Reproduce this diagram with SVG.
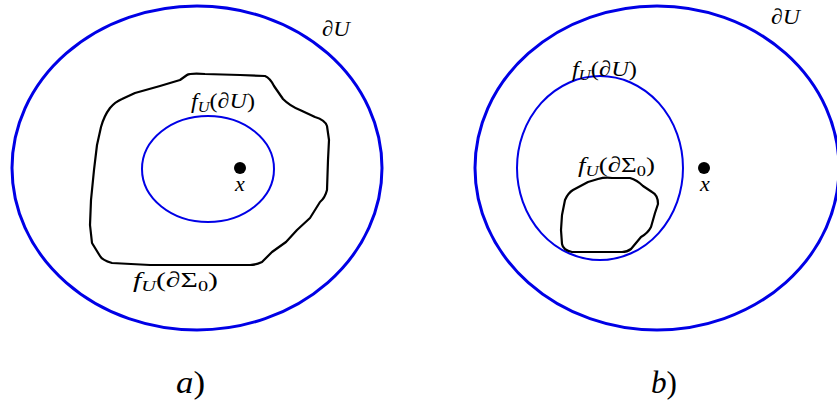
<svg xmlns="http://www.w3.org/2000/svg" width="837" height="403" viewBox="0 0 837 403">
<style>
.big{fill:none;stroke:#0000e6;stroke-width:3}
.inner{fill:none;stroke:#0000e6;stroke-width:2}
.blob{fill:none;stroke:#000;stroke-width:2.2;stroke-linejoin:round}
text{font-family:"Liberation Serif","DejaVu Serif",serif;fill:#000}
.lbl{font-size:22px}
.it{font-style:italic}
.sub{font-size:15px}
.cap{font-size:31px}
</style>
<rect width="837" height="403" fill="#fff"/>
<g id="panel-a">
<g id="a-outer"><ellipse class="big" cx="197" cy="168" rx="185" ry="162"/>
<text class="lbl it" x="322" y="36" textLength="28" lengthAdjust="spacingAndGlyphs">∂U</text></g>
<g id="a-blob"><path class="blob" d="M187,75 Q190,73 205,74 L240,75 L265,76 Q270,78 274,86 L283,99 Q290,106 300,110 L315,117 Q325,120 327,126 L329,140 L328,160 L327,190 Q325,198 320,202 L310,218 L297,230 L286,242 L272,252 L262,262 Q256,265 250,265 L200,265 L150,265 L112,263 Q102,260 100,256 L92,243 L90,225 L91,200 L94,170 L97,145 L101,127 Q104,116 110,108 Q115,102 122,99 L135,93 L160,86 L180,80 Z"/>
<text class="lbl" x="133" y="287" textLength="85" lengthAdjust="spacingAndGlyphs"><tspan class="it">f</tspan><tspan class="sub it" dy="4">U</tspan><tspan dy="-4">(</tspan><tspan class="it">∂</tspan>Σ<tspan class="sub" dy="4">0</tspan><tspan dy="-4">)</tspan></text></g>
<g id="a-inner"><ellipse class="inner" cx="208" cy="169" rx="66" ry="53"/>
<text class="lbl" x="191" y="108" textLength="64" lengthAdjust="spacingAndGlyphs"><tspan class="it">f</tspan><tspan class="sub it" dy="4">U</tspan><tspan dy="-4">(</tspan><tspan class="it">∂U</tspan>)</text></g>
<g id="a-x"><circle cx="240" cy="168" r="6" fill="#000"/>
<text class="lbl it" x="235" y="191">x</text></g>
<text class="cap it" x="176" y="393" textLength="29" lengthAdjust="spacingAndGlyphs">a<tspan font-style="normal">)</tspan></text>
</g>
<g id="panel-b">
<g id="b-outer"><ellipse class="big" cx="657" cy="168" rx="182" ry="162"/>
<text class="lbl it" x="771" y="24" textLength="29" lengthAdjust="spacingAndGlyphs">∂U</text></g>
<g id="b-inner"><ellipse class="inner" cx="600" cy="168" rx="83" ry="92"/>
<text class="lbl" x="572" y="76" textLength="65" lengthAdjust="spacingAndGlyphs"><tspan class="it">f</tspan><tspan class="sub it" dy="4">U</tspan><tspan dy="-4">(</tspan><tspan class="it">∂U</tspan>)</text></g>
<g id="b-blob"><path class="blob" d="M598,179 Q605,177 612,178 L630,178 Q637,180 643,186 L652,192 Q658,195 658,204 L655,213 L651,227 Q648,233 641,237 L631,249 Q627,252 622,252 L595,252 L572,252 Q563,250 562,244 L561,230 L562,215 L565,200 Q568,193 573,190 L588,182 Z"/>
<text class="lbl" x="578" y="172" textLength="77" lengthAdjust="spacingAndGlyphs"><tspan class="it">f</tspan><tspan class="sub it" dy="4">U</tspan><tspan dy="-4">(</tspan><tspan class="it">∂</tspan>Σ<tspan class="sub" dy="4">0</tspan><tspan dy="-4">)</tspan></text></g>
<g id="b-x"><circle cx="704" cy="168" r="6" fill="#000"/>
<text class="lbl it" x="700" y="191">x</text></g>
<text class="cap it" x="651" y="393" textLength="26" lengthAdjust="spacingAndGlyphs">b<tspan font-style="normal">)</tspan></text>
</g>
<g id="connectors"></g>
</svg>
